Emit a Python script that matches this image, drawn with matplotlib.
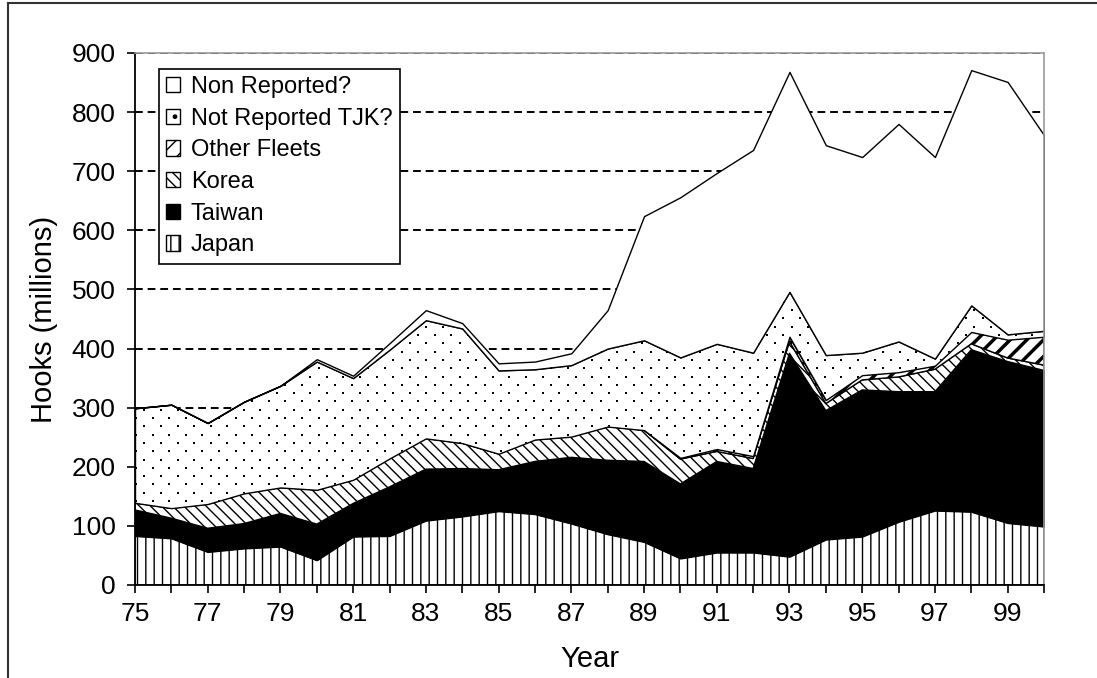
import numpy as np
import matplotlib.pyplot as plt
import matplotlib.patches as mpatches
import matplotlib.transforms as mtransforms
from matplotlib.lines import Line2D

plt.rcParams['font.family'] = ['Liberation Sans', 'DejaVu Sans']

# years 1975-2000 (shown as two digits)
years = np.arange(75, 101)
xtick_labels = ['75', '77', '79', '81', '83', '85', '87', '89', '91', '93', '95', '97', '99']
ytick_values = [0, 100, 200, 300, 400, 500, 600, 700, 800, 900]

# hooks (millions), stacked bottom to top
japan = [83, 79, 56, 62, 65, 42, 82, 83, 109, 116, 125, 120, 104, 86, 73, 45, 55, 55, 48, 77, 82, 107, 126, 124, 105, 99]
taiwan = [44, 34, 40, 42, 56, 61, 56, 83, 87, 81, 70, 89, 112, 125, 136, 126, 154, 142, 344, 218, 248, 220, 201, 274, 273, 264]
korea = [12, 17, 41, 51, 44, 58, 40, 48, 52, 43, 27, 37, 35, 57, 53, 42, 17, 17, 20, 12, 17, 25, 38, 10, 6, 9]
other_fleets = [0, 0, 0, 0, 0, 0, 0, 0, 0, 0, 0, 0, 0, 0, 0, 2, 4, 4, 8, 6, 8, 8, 6, 20, 31, 48]
not_reported_tjk = [160, 175, 137, 155, 172, 217, 172, 184, 200, 194, 141, 119, 121, 132, 152, 170, 178, 175, 76, 76, 38, 52, 12, 45, 9, 10]
non_reported = [0, 0, 0, 0, 0, 4, 4, 11, 17, 9, 12, 13, 20, 65, 210, 271, 289, 343, 372, 355, 331, 368, 341, 398, 427, 331]

# name, values, face colour, hatch, hatch width
series = [
    ('Japan', japan, 'white', '||', 1.0),
    ('Taiwan', taiwan, 'black', None, 1.0),
    ('Korea', korea, 'white', '\\\\\\', 1.0),
    ('Other Fleets', other_fleets, 'white', '//', 2.5),
    ('Not Reported TJK?', not_reported_tjk, 'white', 'dots', 1.0),
    ('Non Reported?', non_reported, 'white', None, 1.0),
]

W, H = 1097, 678
fig = plt.figure(figsize=(W / 100, H / 100), dpi=100)
ax = fig.add_axes([135 / W, 1 - 585 / H, 909 / W, 532 / H])

base = np.zeros(len(years))
handles = []
for name, vals, fc, hatch, hlw in series:
    top = base + np.array(vals)
    h = None if hatch == 'dots' else hatch
    pc = ax.fill_between(years, base, top, facecolor=fc, edgecolor='black',
                         hatch=h, linewidth=1.0, label=name, zorder=2)
    if hasattr(pc, 'set_hatch_linewidth'):
        pc.set_hatch_linewidth(hlw)
    if hatch == 'dots':
        # fine dot texture, clipped to the area
        px = np.arange(136, 1044, 16.6)
        py = np.arange(94, 625, 8.3)
        gx, gy = [], []
        for i, yy in enumerate(py):
            off = 8.3 if i % 2 else 0
            gx.extend(px + off)
            gy.extend([yy] * len(px))
        dots = ax.scatter(gx, gy, s=1.6, marker='s', color='black', linewidths=0,
                          transform=mtransforms.IdentityTransform(), zorder=2.1)
        dots.set_clip_path(pc.get_paths()[0], ax.transData)
        handle = mpatches.Patch(facecolor='white', edgecolor='black', hatch='.', label=name)
    else:
        handle = pc
    handles.append(handle)
    base = top

ax.set_xlim(75, 100)
ax.set_ylim(0, 900)
ax.set_yticks(ytick_values, [str(v) for v in ytick_values])
ax.set_xticks(np.arange(75, 101, 2), xtick_labels)
ax.set_xticks(years, minor=True)
ax.tick_params(axis='both', which='both', direction='out', length=6, width=1.2,
               labelsize=19, colors='black')
ax.tick_params(axis='y', pad=8)
ax.tick_params(axis='x', pad=6)

ax.set_axisbelow(True)
ax.yaxis.grid(True, color='black', linestyle=(0, (4, 2.5)), linewidth=1.4, zorder=0)

for s in ['left', 'bottom']:
    ax.spines[s].set_color('black')
    ax.spines[s].set_linewidth(1.3)
for s in ['top', 'right']:
    ax.spines[s].set_color('#9a9a9a')
    ax.spines[s].set_linewidth(1.2)

ax.set_ylabel('Hooks (millions)', fontsize=21, labelpad=10)
ax.set_xlabel('Year', fontsize=21, labelpad=14)

leg = ax.legend(handles[::-1], [h.get_label() for h in handles[::-1]],
                loc='upper left', bbox_to_anchor=(0.026, 0.97), borderaxespad=0,
                fontsize=17, fancybox=False, framealpha=1, edgecolor='black',
                borderpad=0.3, handlelength=0.62, handleheight=0.62,
                handletextpad=0.45, labelspacing=0.41)
leg.get_frame().set_linewidth(1.2)
leg.set_zorder(5)

# outer chart border (left and top)
fig.add_artist(Line2D([8 / W, 8 / W], [0, 1 - 3 / H], color='#333333', linewidth=1.5))
fig.add_artist(Line2D([8 / W, 1], [1 - 3 / H, 1 - 3 / H], color='#333333', linewidth=1.5))

fig.savefig('out.png', dpi=100)
